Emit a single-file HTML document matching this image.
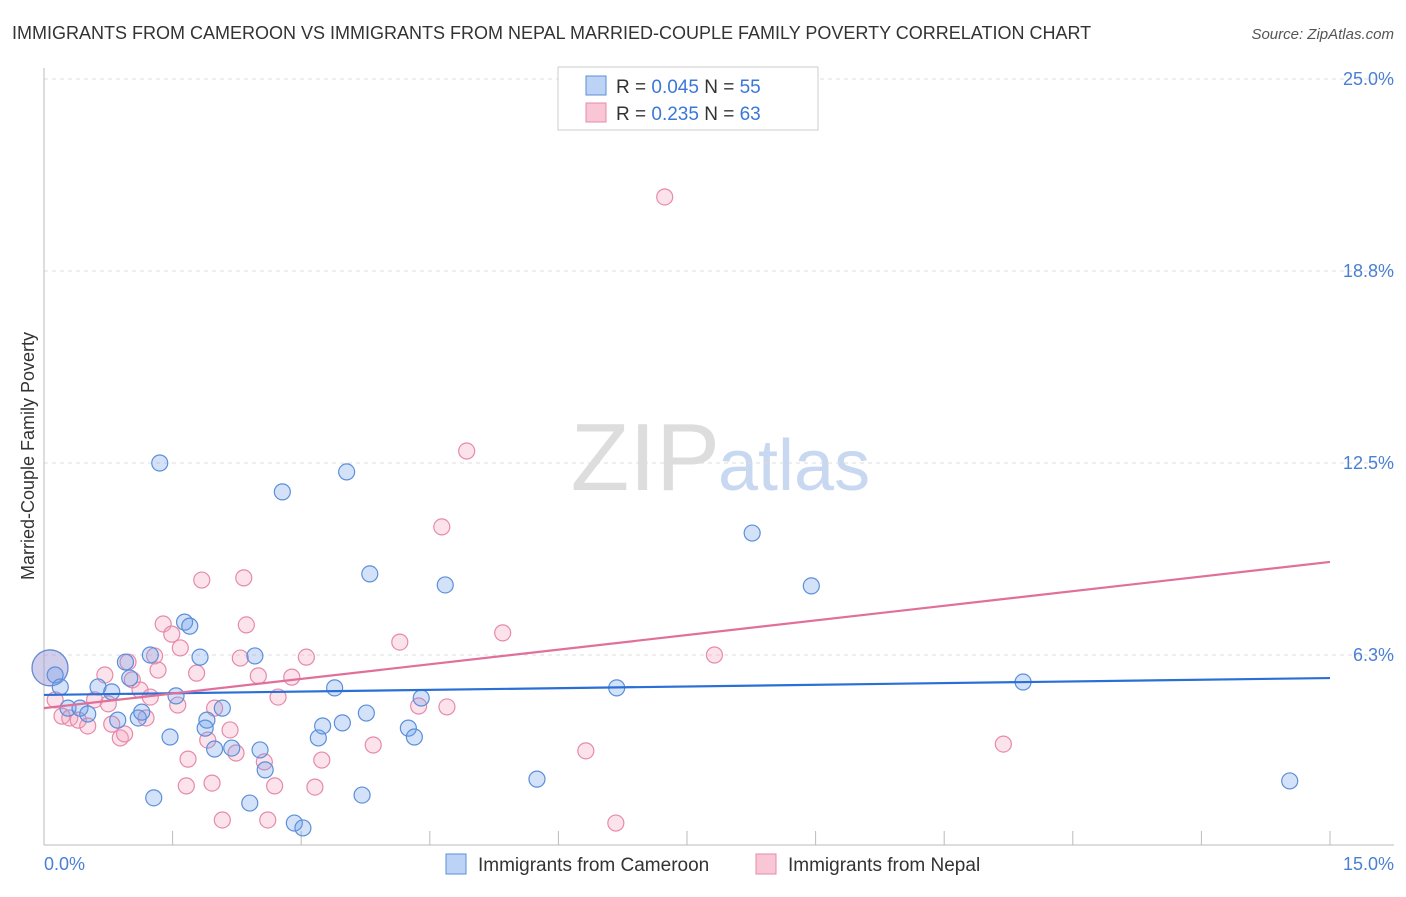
<!DOCTYPE html>
<html><head><meta charset="utf-8"><style>
body{margin:0;background:#fff;font-family:"Liberation Sans",sans-serif;}
svg text{font-family:"Liberation Sans",sans-serif;}
</style></head><body>
<svg id="chart" width="1406" height="892" xmlns="http://www.w3.org/2000/svg">
<text x="12" y="39" font-size="18" fill="#333">IMMIGRANTS FROM CAMEROON VS IMMIGRANTS FROM NEPAL MARRIED-COUPLE FAMILY POVERTY CORRELATION CHART</text>
<text x="1394" y="39" font-size="15" fill="#555" text-anchor="end" font-style="italic">Source: ZipAtlas.com</text>
<text x="720" y="490" font-size="96" fill="#ddd" text-anchor="end" font-family="Liberation Serif">ZIP</text>
<text x="718" y="490" font-size="72" fill="#c8d8f0">atlas</text>
<g id="grid"></g>
<line x1="44" y1="68" x2="44" y2="845" stroke="#bbb"/>
<line x1="44" y1="845" x2="1394" y2="845" stroke="#bbb"/>
<g id="xticks"></g>
<text x="44" y="870" font-size="18" fill="#4a7fd4">0.0%</text>
<text x="1394" y="870" font-size="18" fill="#4a7fd4" text-anchor="end">15.0%</text>
<text transform="translate(34,456) rotate(-90)" font-size="18" fill="#333" text-anchor="middle">Married-Couple Family Poverty</text>
<g id="pts"></g>
<g id="trends"></g>
<g>
<rect x="558" y="67" width="260" height="63" fill="#fff" stroke="#ccc"/>
<rect x="586" y="76" width="20" height="19" fill="#bcd3f5" stroke="#5b8fd9"/>
<rect x="586" y="103" width="20" height="19" fill="#f9c6d6" stroke="#e68aaa"/>
<text x="616" y="93" font-size="19" fill="#333">R = <tspan fill="#3a78d8">0.045</tspan>    N = <tspan fill="#3a78d8">55</tspan></text>
<text x="616" y="120" font-size="19" fill="#333">R =  <tspan fill="#3a78d8">0.235</tspan>    N = <tspan fill="#3a78d8">63</tspan></text>
</g>
<g>
<rect x="446" y="854" width="20" height="20" fill="#bcd3f5" stroke="#5b8fd9"/>
<text x="478" y="871" font-size="19" fill="#333">Immigrants from Cameroon</text>
<rect x="756" y="854" width="20" height="20" fill="#f9c6d6" stroke="#e68aaa"/>
<text x="788" y="871" font-size="19" fill="#333">Immigrants from Nepal</text>
</g>
</svg>
<script>
const yTicks=[25.0,18.75,12.5,6.25];
const yTickLabels=["25.0%","18.8%","12.5%","6.3%"];
const xTicks=[0,1.5,3,4.5,6,7.5,9,10.5,12,13.5,15];
const blueX=[0.07,0.13,0.19,0.28,0.42,0.51,0.63,0.79,0.86,0.95,1.00,1.10,1.14,1.24,1.28,1.35,1.47,1.54,1.64,1.70,1.82,1.90,1.88,1.99,2.08,2.19,2.40,2.46,2.52,2.58,2.78,2.92,3.02,3.20,3.25,3.39,3.48,3.53,3.71,3.76,3.80,4.25,4.32,4.40,4.68,5.75,6.68,8.26,8.95,11.42,14.53];
const blueY=[5.83,5.60,5.21,4.52,4.52,4.33,5.21,5.05,4.13,6.02,5.50,4.20,4.39,6.25,1.60,12.50,3.58,4.92,7.32,7.19,6.18,4.13,3.87,3.19,4.52,3.22,1.43,6.22,3.16,2.51,11.56,0.78,0.62,3.55,3.94,5.18,4.04,12.21,1.69,4.36,8.89,3.87,3.58,4.85,8.53,2.21,5.18,10.22,8.50,5.37,2.15];
const pinkX=[0.07,0.13,0.21,0.30,0.40,0.51,0.59,0.71,0.75,0.79,0.89,0.94,0.98,1.03,1.12,1.19,1.24,1.29,1.33,1.39,1.49,1.56,1.59,1.68,1.66,1.78,1.84,1.91,1.96,1.99,2.08,2.17,2.24,2.29,2.33,2.36,2.50,2.57,2.61,2.69,2.73,2.89,3.06,3.16,3.24,3.84,4.15,4.37,4.64,4.70,4.93,5.35,6.32,6.67,7.24,7.82,11.19];
const pinkY=[5.83,4.79,4.26,4.20,4.13,3.94,4.79,5.60,4.66,4.00,3.55,3.68,6.02,5.44,5.11,4.20,4.88,6.22,5.76,7.26,6.93,4.62,6.48,2.86,1.99,5.66,8.69,3.48,2.08,4.52,0.88,3.81,3.06,6.15,8.76,7.23,5.57,2.77,0.88,1.99,4.88,5.53,6.18,1.95,2.83,3.32,6.67,4.59,10.42,4.56,12.89,6.97,3.13,0.78,21.16,6.25,3.35];
const blueTrend=[4.95,5.50];
const pinkTrend=[4.52,9.28];
const X=v=>44+v*(1330-44)/15;
const Y=v=>847-v*30.72;
const NS="http://www.w3.org/2000/svg";
function mk(t,a,p){const e=document.createElementNS(NS,t);for(const k in a)e.setAttribute(k,a[k]);document.getElementById(p).appendChild(e);return e;}
yTicks.forEach((t,i)=>{
 const l=mk('line',{x1:44,x2:1394,y1:Y(t),y2:Y(t),stroke:'#ddd','stroke-dasharray':'4,4'},'grid');
 
 
 const tx=mk('text',{x:1394,y:Y(t)+6,'font-size':18,fill:'#4a7fd4','text-anchor':'end'},'grid');
 tx.textContent=yTickLabels[i];
 
 
});
xTicks.forEach(t=>{
 const l=mk('line',{x1:X(t),x2:X(t),y1:831,y2:845,stroke:'#bbb'},'xticks');
 
 
});
function dots(xs,ys,fill,stroke,name){
 xs.forEach((x,i)=>{
  const r=i===0?18:8;
  const c=mk('circle',{cx:X(x),cy:Y(ys[i]),r:r,fill:fill,stroke:stroke,'stroke-width':1.2},'pts');
  
  
 });
}
dots(pinkX,pinkY,'rgba(244,160,190,0.3)','#e68aaa','nepal-point');
dots(blueX,blueY,'rgba(110,160,235,0.3)','#5b8fd9','cameroon-point');
const bt=mk('line',{x1:X(0),y1:Y(blueTrend[0]),x2:X(15),y2:Y(blueTrend[1]),stroke:'#2a6fd6','stroke-width':2.2},'trends');


const pt=mk('line',{x1:X(0),y1:Y(pinkTrend[0]),x2:X(15),y2:Y(pinkTrend[1]),stroke:'#e0709a','stroke-width':2.2},'trends');


</script>
</body></html>
